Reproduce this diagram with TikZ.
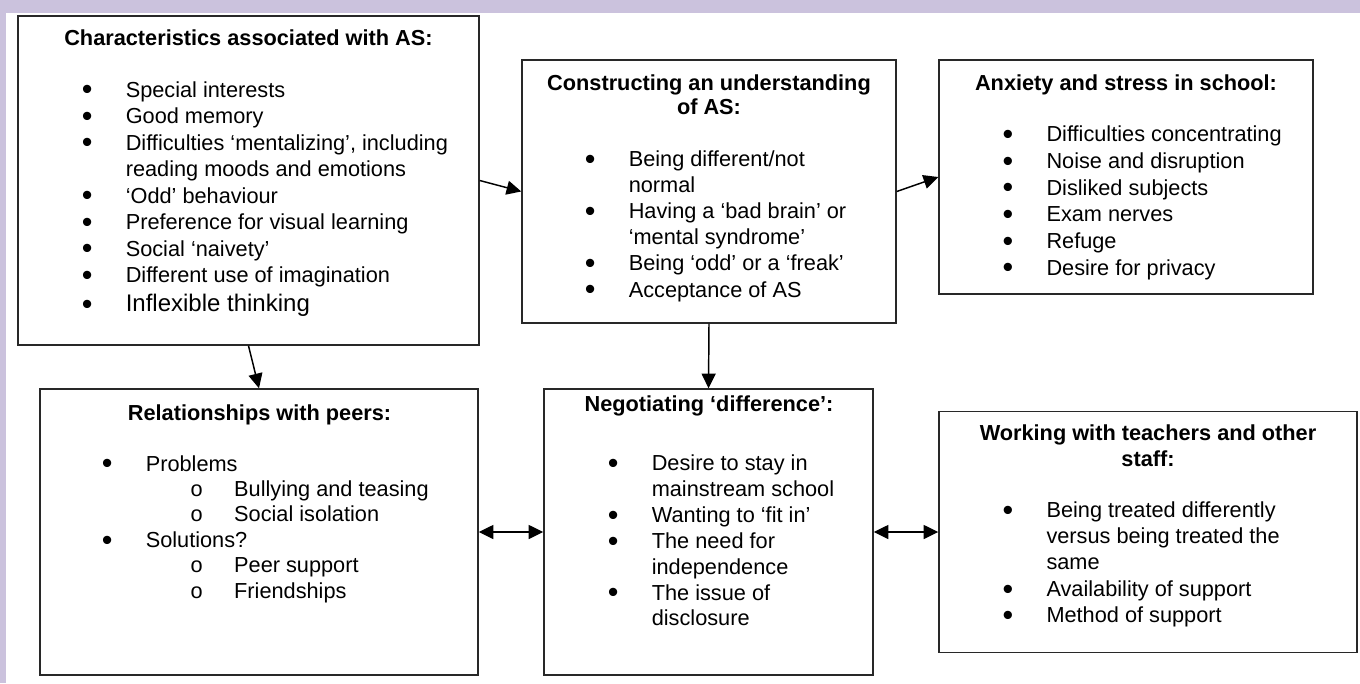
\documentclass[tikz,border=0pt]{standalone}
\usepackage{fontspec}
\usepackage{graphicx}
\setmainfont{Liberation Sans}
\usetikzlibrary{arrows.meta}

\definecolor{framecol}{RGB}{203,194,221}
\definecolor{boxline}{RGB}{40,40,40}

% list helpers: bullet centred on the node anchor, text after a fixed gap
\newlength\bulgap \setlength\bulgap{28.9pt}
\newcommand\bodyfont{\fontsize{16.3}{19.6}\selectfont}
\newcommand\bigdot{\smash{\raisebox{-2.2pt}{\scalebox{1.4}{•}}}}
\newcommand\bitem[1]{\hbox{\makebox[0pt]{\bigdot}\hspace*{\bulgap}#1}}
\newcommand\contline[1]{\hbox{\hspace*{\bulgap}#1}}
\newcommand\subitm[1]{\hbox{\hspace*{67pt}\makebox[0pt]{o}\hspace*{28.2pt}#1}}
\newcommand\itemlines[2]{\vtop{\baselineskip=#1\lineskiplimit=-20pt\relax #2}}

\begin{document}
\begin{tikzpicture}[x=0.75pt,y=-0.75pt,
  box/.style={draw=boxline, line width=1.1pt, inner sep=0pt, fill=white},
  arr/.style={-{Triangle[length=11pt,width=10.5pt]}, line width=1.1pt},
  dbl/.style={{Triangle[length=11pt,width=10.5pt]}-{Triangle[length=11pt,width=10.5pt]}, line width=1.1pt},
  ttl/.style={anchor=base, inner sep=0pt, font=\bodyfont\bfseries},
  lst/.style={anchor=base west, inner sep=0pt, font=\bodyfont}]

\useasboundingbox (0,0) rectangle (1360,683);
\fill[white] (0,0) rectangle (1360,683);
\fill[framecol] (0,0) rectangle (1360,13);
\fill[framecol] (0,0) rectangle (6,683);

% boxes
\node[box, minimum width=345.75pt, minimum height=246.75pt] (b1) at (248.5,180.5) {};
\node[box, minimum width=280.5pt,  minimum height=197.25pt] (b2) at (709,191.5) {};
\node[box, minimum width=280.5pt,  minimum height=175.5pt]  (b3) at (1126,177) {};
\node[box, minimum width=328.5pt,  minimum height=214.5pt]  (b4) at (259,532) {};
\node[box, minimum width=246.75pt, minimum height=214.5pt]  (b5) at (708.5,532) {};
\node[box, minimum width=313.5pt,  minimum height=180.75pt] (b6) at (1148,532) {};

% box 1
\node[ttl] (t1) at (248.5,45) {Characteristics associated with AS:};
\node[lst] (l1) at (87,97) {\itemlines{19.875pt}{%
  \bitem{Special interests}
  \bitem{Good memory}
  \bitem{Difficulties ‘mentalizing’, including}
  \contline{reading moods and emotions}
  \bitem{‘Odd’ behaviour}
  \bitem{Preference for visual learning}
  \bitem{Social ‘naivety’}
  \bitem{Different use of imagination}
  \baselineskip=21.75pt
  \bitem{\fontsize{18}{21}\selectfont Inflexible thinking}}};

% box 2
\node[ttl] (t2a) at (709,90.7) {Constructing an understanding};
\node[ttl] (t2b) at (709,114) {of AS:};
\node[lst] (l2) at (590,166.7) {\itemlines{19.55pt}{%
  \bitem{Being different/not}
  \contline{normal}
  \bitem{Having a ‘bad brain’ or}
  \contline{‘mental syndrome’}
  \bitem{Being ‘odd’ or a ‘freak’}
  \bitem{Acceptance of AS}}};

% box 3
\node[ttl] (t3) at (1126,90) {Anxiety and stress in school:};
\node[lst] (l3) at (1007.7,141.7) {\itemlines{20pt}{%
  \bitem{Difficulties concentrating}
  \bitem{Noise and disruption}
  \bitem{Disliked subjects}
  \bitem{Exam nerves}
  \bitem{Refuge}
  \bitem{Desire for privacy}}};

% box 4
\node[ttl] (t4) at (259.5,420) {Relationships with peers:};
\node[lst] (l4) at (107,471) {\itemlines{19.1pt}{%
  \bitem{Problems}
  \subitm{Bullying and teasing}
  \subitm{Social isolation}
  \bitem{Solutions?}
  \subitm{Peer support}
  \subitm{Friendships}}};

% box 5
\node[ttl] (t5) at (709,411.7) {Negotiating ‘difference’:};
\node[lst] (l5) at (613,470.7) {\itemlines{19.4pt}{%
  \bitem{Desire to stay in}
  \contline{mainstream school}
  \bitem{Wanting to ‘fit in’}
  \bitem{The need for}
  \contline{independence}
  \bitem{The issue of}
  \contline{disclosure}}};

% box 6
\node[ttl] (t6a) at (1148,440.7) {Working with teachers and other};
\node[ttl] (t6b) at (1148,466.7) {staff:};
\node[lst] (l6) at (1007.7,517.3) {\itemlines{19.7pt}{%
  \bitem{Being treated differently}
  \contline{versus being treated the}
  \contline{same}
  \bitem{Availability of support}
  \bitem{Method of support}}};

% connectors
\draw[arr] (b1.east) -- (b2.west);
\draw[arr] (b2.east) -- (b3.west);
\draw[arr] (b1.south) -- (b4.north);
\draw[arr] (b2.south) -- (b5.north);
\draw[dbl] (b4.east) -- (b5.west);
\draw[dbl] (b5.east) -- (b6.west);
\end{tikzpicture}
\end{document}
